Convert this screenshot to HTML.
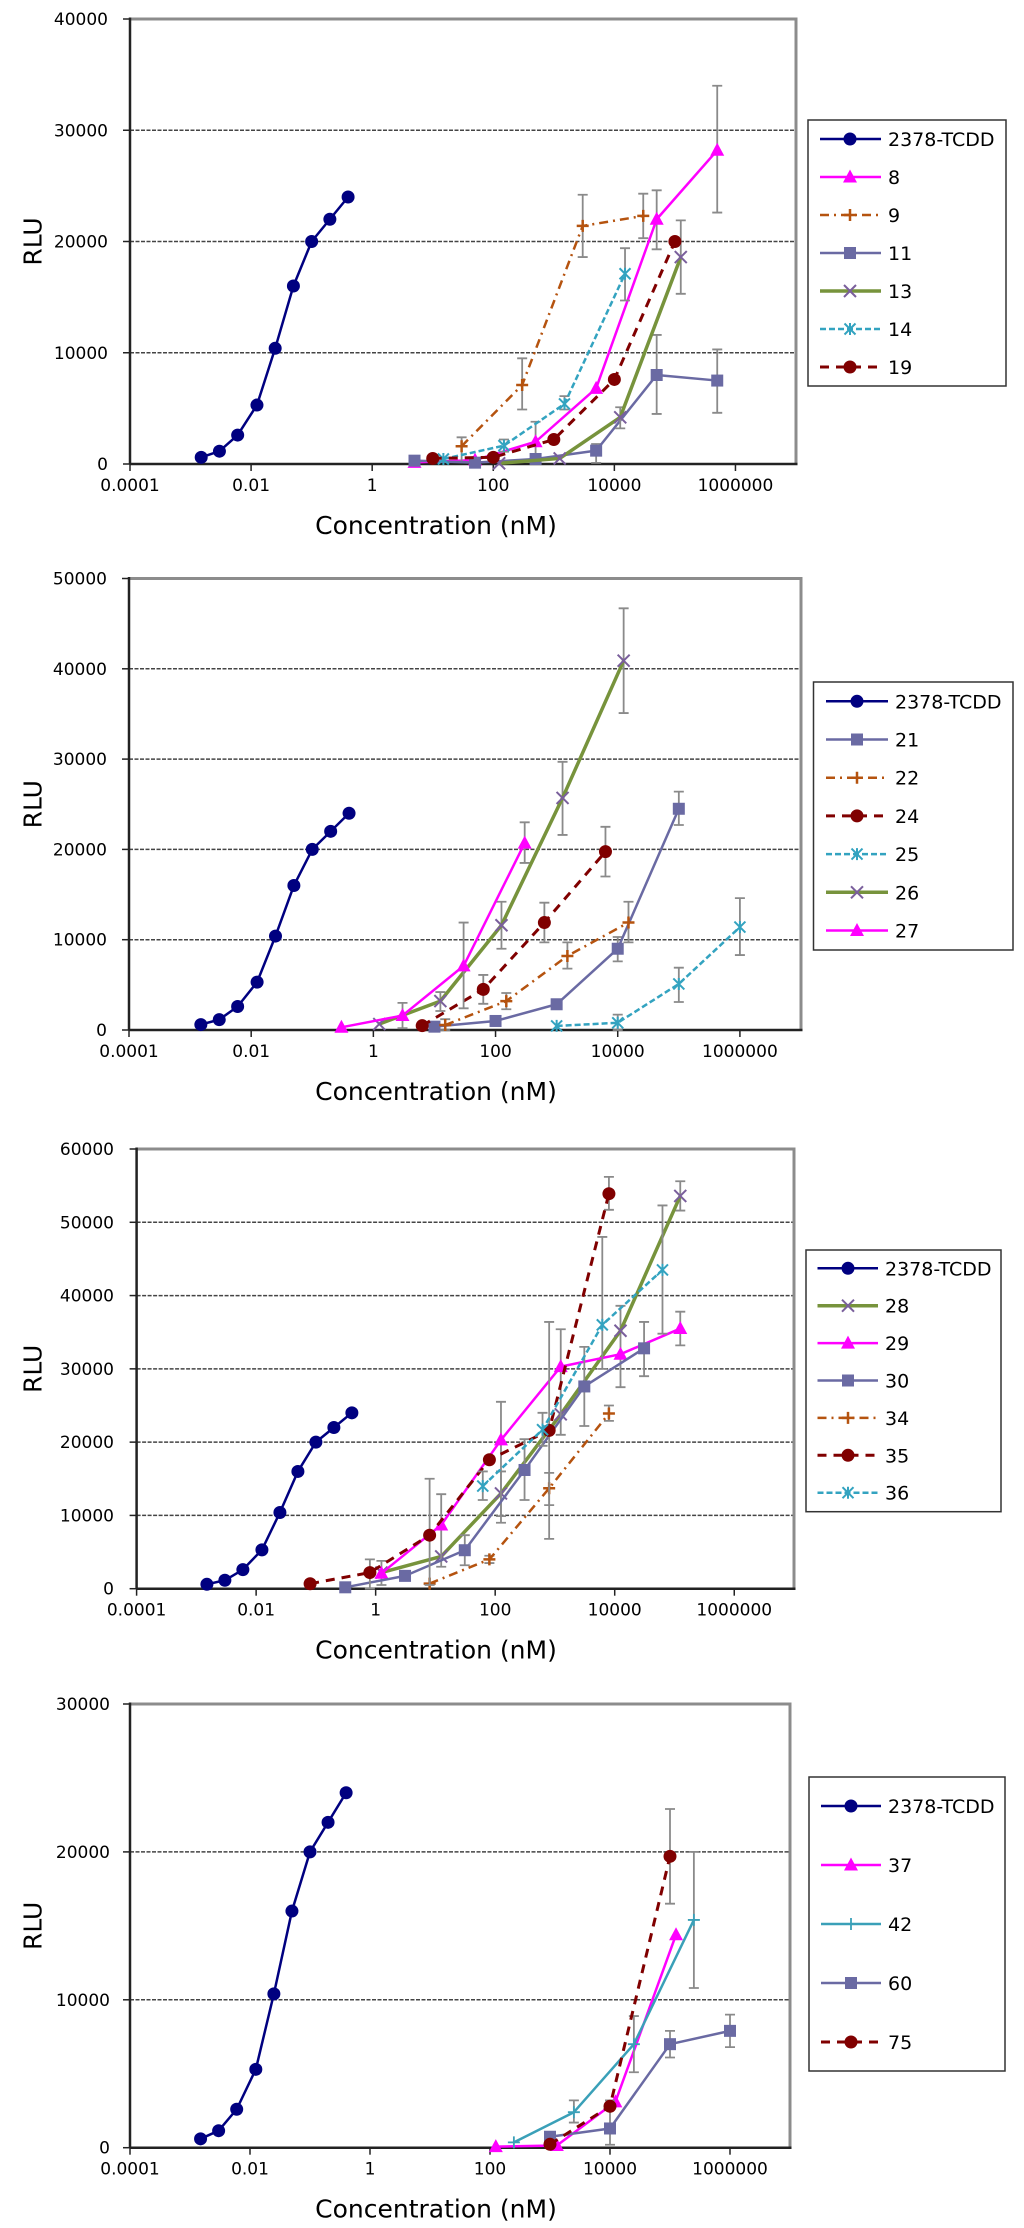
<!DOCTYPE html>
<html><head><meta charset="utf-8"><style>
html,body{margin:0;padding:0;background:#fff;}
svg{display:block;}
text{font-family:"DejaVu Sans","Liberation Sans",sans-serif;fill:#000;}
</style></head>
<body>
<svg id="fig" width="1024" height="2228" viewBox="0 0 1024 2228" xmlns="http://www.w3.org/2000/svg"></svg>
<script>
// ---- data ----
const tcddX=[0.0015,0.003,0.006,0.0125,0.025,0.05,0.1,0.2,0.4];
const tcddY=[600,1150,2600,5300,10400,16000,20000,22000,24000];
// chart 1
const c1s8x=[5,50,500,5000,50000,500000];
const c1s8y=[150,350,2000,6800,22000,28200];
const c1s8hi=[null,null,3800,null,24600,34000];
const c1s8lo=[null,null,300,null,19300,22600];
const c1s9x=[30,300,3000,30000];
const c1s9y=[1600,7100,21400,22300];
const c1s9hi=[2400,9500,24200,24300];
const c1s9lo=[200,4900,18600,20300];
const c1s11x=[5,50,500,5000,50000,500000];
const c1s11y=[300,120,450,1200,8000,7500];
const c1s11hi=[null,null,null,1800,11600,10300];
const c1s11lo=[null,null,null,100,4500,4600];
const c1s13x=[125,1250,12500,125000];
const c1s13y=[60,500,4200,18600];
const c1s13hi=[null,null,5100,21900];
const c1s13lo=[null,null,3200,15300];
const c1s14x=[15,150,1500,15000];
const c1s14y=[450,1650,5400,17100];
const c1s14hi=[null,2200,6100,19400];
const c1s14lo=[null,1100,4900,14700];
const c1s19x=[10,100,1000,10000,100000];
const c1s19y=[500,600,2200,7600,20000];
const c1s19hi=[null,null,null,null,null];
const c1s19lo=[null,null,null,null,null];
// chart 2
const c2s21x=[10,100,1000,10000,100000];
const c2s21y=[370,1000,2850,9000,24500];
const c2s21hi=[null,null,null,10300,26400];
const c2s21lo=[null,null,null,7600,22700];
const c2s22x=[15,150,1500,15000];
const c2s22y=[550,3200,8200,11900];
const c2s22hi=[1200,4100,9700,14200];
const c2s22lo=[0,2300,6800,9700];
const c2s24x=[6.3,63,630,6300];
const c2s24y=[480,4500,11900,19750];
const c2s24hi=[null,6100,14100,22500];
const c2s24lo=[null,2900,9700,17000];
const c2s25x=[1000,10000,100000,1000000];
const c2s25y=[450,800,5100,11400];
const c2s25hi=[null,1700,6900,14600];
const c2s25lo=[null,0,3100,8300];
const c2s26x=[1.25,12.5,125,1250,12500];
const c2s26y=[660,3200,11600,25700,40900];
const c2s26hi=[null,4200,14200,29700,46700];
const c2s26lo=[null,2100,9000,21600,35100];
const c2s27x=[0.3,3,30,300];
const c2s27y=[300,1600,7100,20700];
const c2s27hi=[null,3000,11900,23000];
const c2s27lo=[null,200,2400,18500];
// chart 3
const c3s28x=[1.25,12.5,125,1250,12500,125000];
const c3s28y=[2200,4400,13000,23800,35200,53600];
const c3s28hi=[null,null,16000,null,38600,55600];
const c3s28lo=[null,null,9000,null,27500,51600];
const c3s29x=[1.25,12.5,125,1250,12500,125000];
const c3s29y=[2100,8700,20300,30300,32000,35500];
const c3s29hi=[3800,12900,25500,35400,null,37800];
const c3s29lo=[500,3000,9900,21000,null,33200];
const c3s30x=[0.31,3.1,31,310,3100,31000];
const c3s30y=[190,1750,5250,16200,27600,32800];
const c3s30hi=[null,null,7300,20400,33000,36400];
const c3s30lo=[null,null,3200,12100,22200,29000];
const c3s34x=[8,80,800,8000];
const c3s34y=[700,4000,13700,23900];
const c3s34hi=[null,4500,15800,25000];
const c3s34lo=[null,3500,11400,22900];
const c3s35x=[0.08,0.8,8,80,800,8000];
const c3s35y=[680,2200,7300,17600,21600,53900];
const c3s35hi=[null,4000,15000,null,36400,56200];
const c3s35lo=[null,0,500,null,6800,51700];
const c3s36x=[62,620,6200,63000];
const c3s36y=[14000,21700,36000,43500];
const c3s36hi=[16000,24000,48000,52300];
const c3s36lo=[12100,19500,30000,34800];
// chart 4
const c4s37x=[125,1300,12300,126000];
const c4s37y=[70,150,3100,14400];
const c4s37hi=[null,null,null,14900];
const c4s37lo=[null,null,null,null];
const c4s42x=[250,2500,25000,250000];
const c4s42y=[360,2400,7000,15400];
const c4s42hi=[null,3200,8900,20000];
const c4s42lo=[null,1700,5100,10800];
const c4s60x=[1000,10000,100000,1000000];
const c4s60y=[740,1300,7000,7900];
const c4s60hi=[null,3200,7900,9000];
const c4s60lo=[null,200,6100,6800];
const c4s75x=[1000,10000,100000];
const c4s75y=[230,2800,19700];
const c4s75hi=[null,null,22900];
const c4s75lo=[null,null,16500];
const xTickVals=[0.0001,0.01,1,100,10000,1000000];
const xTickLabels=["0.0001","0.01","1","100","10000","1000000"];

// ---- styles ----
const ST={
 tcdd:{color:"#000080",w:2.5,dash:null,marker:"circle",mc:"#000080"},
 mag:{color:"#ff00ff",w:2.5,dash:null,marker:"tri",mc:"#ff00ff"},
 org:{color:"#b5530f",w:2.5,dash:"9,5,2,5",marker:"plus",mc:"#b5530f"},
 sq:{color:"#6a6aa3",w:2.5,dash:null,marker:"square",mc:"#6a6aa3"},
 grn:{color:"#77933c",w:3.5,dash:null,marker:"x",mc:"#7a5f9c"},
 teal:{color:"#33a3c0",w:2.5,dash:"6,3",marker:"star",mc:"#33a3c0"},
 red:{color:"#800000",w:3,dash:"9,7",marker:"circle",mc:"#800000"},
 teal2:{color:"#3aa0b8",w:2.5,dash:null,marker:"thinplus",mc:"#3aa0b8"}
};
const tcddS={label:"2378-TCDD",x:tcddX,y:tcddY,hi:null,lo:null,st:ST.tcdd};

const charts=[
 {id:"chart-1",left:130,right:796,top:19,y0:464,ymax:40000,ystep:10000,ylabRight:108,
  series:[tcddS,
   {label:"8",x:c1s8x,y:c1s8y,hi:c1s8hi,lo:c1s8lo,st:ST.mag},
   {label:"9",x:c1s9x,y:c1s9y,hi:c1s9hi,lo:c1s9lo,st:ST.org},
   {label:"11",x:c1s11x,y:c1s11y,hi:c1s11hi,lo:c1s11lo,st:ST.sq},
   {label:"13",x:c1s13x,y:c1s13y,hi:c1s13hi,lo:c1s13lo,st:ST.grn},
   {label:"14",x:c1s14x,y:c1s14y,hi:c1s14hi,lo:c1s14lo,st:ST.teal},
   {label:"19",x:c1s19x,y:c1s19y,hi:c1s19hi,lo:c1s19lo,st:ST.red}],
  leg:{x1:808,x2:1006,y1:120,y2:386,first:139,step:38,l1:820,l2:881,m:850,t:888}},
 {id:"chart-2",left:129,right:801,top:578.5,y0:1030,ymax:50000,ystep:10000,ylabRight:107,
  series:[tcddS,
   {label:"21",x:c2s21x,y:c2s21y,hi:c2s21hi,lo:c2s21lo,st:ST.sq},
   {label:"22",x:c2s22x,y:c2s22y,hi:c2s22hi,lo:c2s22lo,st:ST.org},
   {label:"24",x:c2s24x,y:c2s24y,hi:c2s24hi,lo:c2s24lo,st:ST.red},
   {label:"25",x:c2s25x,y:c2s25y,hi:c2s25hi,lo:c2s25lo,st:ST.teal},
   {label:"26",x:c2s26x,y:c2s26y,hi:c2s26hi,lo:c2s26lo,st:ST.grn},
   {label:"27",x:c2s27x,y:c2s27y,hi:c2s27hi,lo:c2s27lo,st:ST.mag}],
  leg:{x1:813.5,x2:1013,y1:682,y2:950,first:701.3,step:38.2,l1:826,l2:888,m:857,t:895}},
 {id:"chart-3",left:136.6,right:794,top:1149,y0:1588.7,ymax:60000,ystep:10000,ylabRight:114,
  series:[tcddS,
   {label:"28",x:c3s28x,y:c3s28y,hi:c3s28hi,lo:c3s28lo,st:ST.grn},
   {label:"29",x:c3s29x,y:c3s29y,hi:c3s29hi,lo:c3s29lo,st:ST.mag},
   {label:"30",x:c3s30x,y:c3s30y,hi:c3s30hi,lo:c3s30lo,st:ST.sq},
   {label:"34",x:c3s34x,y:c3s34y,hi:c3s34hi,lo:c3s34lo,st:ST.org},
   {label:"35",x:c3s35x,y:c3s35y,hi:c3s35hi,lo:c3s35lo,st:ST.red},
   {label:"36",x:c3s36x,y:c3s36y,hi:c3s36hi,lo:c3s36lo,st:ST.teal}],
  leg:{x1:806,x2:1001,y1:1250,y2:1511.7,first:1268.3,step:37.4,l1:817.5,l2:878,m:848,t:885}},
 {id:"chart-4",left:130,right:790,top:1704,y0:2147.7,ymax:30000,ystep:10000,ylabRight:110,
  series:[tcddS,
   {label:"37",x:c4s37x,y:c4s37y,hi:c4s37hi,lo:c4s37lo,st:ST.mag},
   {label:"42",x:c4s42x,y:c4s42y,hi:c4s42hi,lo:c4s42lo,st:ST.teal2},
   {label:"60",x:c4s60x,y:c4s60y,hi:c4s60hi,lo:c4s60lo,st:ST.sq},
   {label:"75",x:c4s75x,y:c4s75y,hi:c4s75hi,lo:c4s75lo,st:ST.red}],
  leg:{x1:809,x2:1005,y1:1777,y2:2071,first:1806,step:59,l1:821,l2:881,m:851,t:888}}
];

const NS="http://www.w3.org/2000/svg";
const svg=document.getElementById("fig");
function mk(tag,attrs,parent){const e=document.createElementNS(NS,tag);for(const k in attrs)e.setAttribute(k,attrs[k]);(parent||svg).appendChild(e);return e;}

function drawMarker(g,type,cx,cy,c){
 let m;
 if(type==="circle"){m=mk("circle",{cx:cx,cy:cy,r:6.5,fill:c},g);}
 else if(type==="tri"){m=mk("polygon",{points:(cx)+","+(cy-7.5)+" "+(cx-7)+","+(cy+5.5)+" "+(cx+7)+","+(cy+5.5),fill:c},g);}
 else if(type==="square"){m=mk("rect",{x:cx-6,y:cy-6,width:12,height:12,fill:c},g);}
 else if(type==="x"){m=mk("path",{d:"M"+(cx-6)+","+(cy-6)+"L"+(cx+6)+","+(cy+6)+"M"+(cx-6)+","+(cy+6)+"L"+(cx+6)+","+(cy-6),stroke:c,"stroke-width":2,fill:"none"},g);}
 else if(type==="plus"){m=mk("path",{d:"M"+(cx-6)+","+cy+"L"+(cx+6)+","+cy+"M"+cx+","+(cy-6)+"L"+cx+","+(cy+6),stroke:c,"stroke-width":2.5,fill:"none"},g);}
 else if(type==="thinplus"){m=mk("path",{d:"M"+(cx-6)+","+cy+"L"+(cx+6)+","+cy+"M"+cx+","+(cy-6)+"L"+cx+","+(cy+6),stroke:c,"stroke-width":1.8,fill:"none"},g);}
 else if(type==="star"){m=mk("path",{d:"M"+(cx-5.5)+","+(cy-5.5)+"L"+(cx+5.5)+","+(cy+5.5)+"M"+(cx-5.5)+","+(cy+5.5)+"L"+(cx+5.5)+","+(cy-5.5)+"M"+cx+","+(cy-6)+"L"+cx+","+(cy+6),stroke:c,"stroke-width":2,fill:"none"},g);}
 
 
 return m;
}

charts.forEach((ch,ci)=>{
 const g=mk("g",{});
 
 
 const lmin=-4,lmax=7;
 const X=v=>ch.left+(Math.log10(v)-lmin)/(lmax-lmin)*(ch.right-ch.left);
 const Y=v=>ch.y0-v/ch.ymax*(ch.y0-ch.top);
 for(let v=ch.ystep;v<ch.ymax;v+=ch.ystep){
  const l=mk("line",{x1:ch.left,x2:ch.right,y1:Y(v),y2:Y(v),stroke:"#444","stroke-width":1.5,"stroke-dasharray":"4,1.5"},g);
  
  
 }
 const fr=mk("path",{d:"M"+ch.left+","+ch.top+"L"+ch.right+","+ch.top+"L"+ch.right+","+ch.y0,stroke:"#8c8c8c","stroke-width":3,fill:"none"},g);
 
 
 const ya=mk("line",{x1:ch.left,x2:ch.left,y1:ch.top-1.5,y2:ch.y0,stroke:"#222","stroke-width":2.5},g);
 
 
 const xa=mk("line",{x1:ch.left,x2:ch.right+1.5,y1:ch.y0,y2:ch.y0,stroke:"#222","stroke-width":2.5},g);
 
 
 for(let v=0;v<=ch.ymax;v+=ch.ystep){
  mk("line",{x1:ch.left-7,x2:ch.left,y1:Y(v),y2:Y(v),stroke:"#222","stroke-width":1.5},g);
  const t=mk("text",{x:ch.ylabRight,y:Y(v)+6,"text-anchor":"end","font-size":17},g);
  t.textContent=String(v);
  
  
 }
 xTickVals.forEach((v,i)=>{
  mk("line",{x1:X(v),x2:X(v),y1:ch.y0,y2:ch.y0+7,stroke:"#222","stroke-width":1.5},g);
  const t=mk("text",{x:X(v),y:ch.y0+27,"text-anchor":"middle","font-size":17},g);
  t.textContent=xTickLabels[i];
  
  
 });
 const yt=mk("text",{x:0,y:0,"text-anchor":"middle","font-size":25,"dominant-baseline":"central",transform:"translate(33,"+((ch.top+ch.y0)/2)+") rotate(-90)"},g);
 yt.textContent="RLU";
 
 
 const xt=mk("text",{x:436,y:ch.y0+70,"text-anchor":"middle","font-size":25},g);
 xt.textContent="Concentration (nM)";
 
 
 ch.series.forEach(s=>{
  const sg=mk("g",{},g);
  
  
  if(s.hi){
   s.x.forEach((xv,i)=>{
    if(s.hi[i]==null||s.lo[i]==null)return;
    const px=X(xv),a=Y(s.hi[i]),b=Y(s.lo[i]);
    const eb=mk("path",{d:"M"+px+","+a+"L"+px+","+b+"M"+(px-5)+","+a+"L"+(px+5)+","+a+"M"+(px-5)+","+b+"L"+(px+5)+","+b,stroke:"#8a8a8a","stroke-width":1.8,fill:"none"},sg);
    
    
   });
  }
  const pts=s.x.map((xv,i)=>X(xv)+","+Y(s.y[i])).join(" ");
  const pl=mk("polyline",{points:pts,fill:"none",stroke:s.st.color,"stroke-width":s.st.w,"stroke-linejoin":"round"},sg);
  if(s.st.dash)pl.setAttribute("stroke-dasharray",s.st.dash);
  
  
  s.x.forEach((xv,i)=>drawMarker(sg,s.st.marker,X(xv),Y(s.y[i]),s.st.mc));
 });
 const L=ch.leg;
 const lg=mk("g",{},g);
 
 
 mk("rect",{x:L.x1,y:L.y1,width:L.x2-L.x1,height:L.y2-L.y1,fill:"#fff",stroke:"#333","stroke-width":1.5},lg);
 ch.series.forEach((s,i)=>{
  const yy=L.first+i*L.step;
  const eg=mk("g",{},lg);
  
  
  const ln=mk("line",{x1:L.l1,x2:L.l2,y1:yy,y2:yy,stroke:s.st.color,"stroke-width":s.st.w},eg);
  if(s.st.dash)ln.setAttribute("stroke-dasharray",s.st.dash);
  drawMarker(eg,s.st.marker,L.m,yy,s.st.mc);
  const t=mk("text",{x:L.t,y:yy+7,"font-size":19},eg);
  t.textContent=s.label;
 });
});
</script>
</body></html>
